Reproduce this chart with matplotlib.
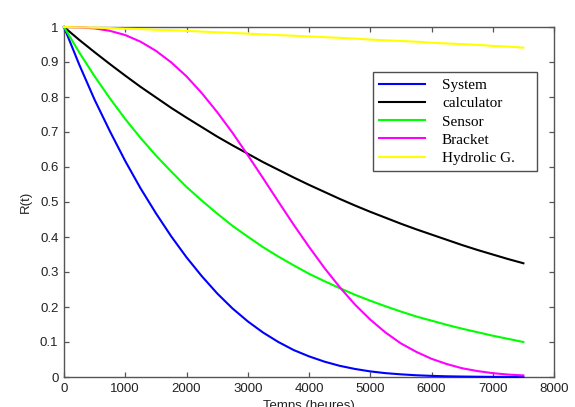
import matplotlib
matplotlib.use("Agg")
import matplotlib.pyplot as plt
import matplotlib.ticker as ticker

# ── Data (every 250 h) ───────────────────────────────────────────────────────
hours = [0, 250, 500, 750, 1000, 1250, 1500, 1750, 2000, 2250, 2500, 2750,
         3000, 3250, 3500, 3750, 4000, 4250, 4500, 4750, 5000, 5250, 5500,
         5750, 6000, 6250, 6500, 6750, 7000, 7250, 7500]

r_system = [1.000, 0.892, 0.792, 0.702, 0.617, 0.539, 0.468, 0.402, 0.342,
            0.288, 0.239, 0.196, 0.159, 0.127, 0.100, 0.077, 0.059, 0.044,
            0.032, 0.023, 0.016, 0.011, 0.0076, 0.0050, 0.0032, 0.0020,
            0.0013, 0.0008, 0.0004, 0.0002, 0.0001]
r_calculator = [1.000, 0.963, 0.928, 0.894, 0.861, 0.829, 0.799, 0.769, 0.741,
                0.714, 0.687, 0.662, 0.638, 0.614, 0.592, 0.570, 0.549, 0.529,
                0.509, 0.490, 0.472, 0.455, 0.438, 0.422, 0.407, 0.392, 0.377,
                0.363, 0.350, 0.337, 0.325]
r_sensor = [1.000, 0.927, 0.859, 0.796, 0.737, 0.683, 0.633, 0.587, 0.543,
            0.504, 0.467, 0.432, 0.401, 0.371, 0.344, 0.319, 0.295, 0.274,
            0.254, 0.235, 0.218, 0.202, 0.187, 0.173, 0.161, 0.149, 0.138,
            0.128, 0.118, 0.109, 0.100]
r_bracket = [1.000, 0.999, 0.996, 0.989, 0.977, 0.958, 0.932, 0.899, 0.859,
             0.811, 0.757, 0.698, 0.634, 0.568, 0.501, 0.435, 0.372, 0.312,
             0.257, 0.207, 0.164, 0.127, 0.096, 0.072, 0.052, 0.037, 0.025,
             0.017, 0.011, 0.007, 0.0045]
r_hydrolic = [1.000, 0.999, 0.998, 0.997, 0.995, 0.994, 0.992, 0.991, 0.989,
              0.987, 0.985, 0.983, 0.981, 0.979, 0.977, 0.975, 0.973, 0.971,
              0.969, 0.967, 0.964, 0.962, 0.960, 0.958, 0.955, 0.953, 0.951,
              0.949, 0.946, 0.944, 0.941]

series = [
    ("System", r_system, "#0000FF"),
    ("calculator", r_calculator, "#000000"),
    ("Sensor", r_sensor, "#00FF00"),
    ("Bracket", r_bracket, "#FF00FF"),
    ("Hydrolic G.", r_hydrolic, "#FFFF00"),
]

plt.rcParams.update({
    "font.family": ["Liberation Sans", "DejaVu Sans"],
    "font.size": 9.5,
})

fig = plt.figure(figsize=(5.75, 4.07), dpi=100)
ax = fig.add_axes([64 / 575, 30 / 407, 490 / 575, 350 / 407])

for name, vals, color in series:
    ax.plot(hours, vals, color=color, linewidth=1.5, label=name,
            clip_on=False, zorder=3)

ax.set_xlim(0, 8000)
ax.set_ylim(0, 1)
ax.xaxis.set_major_locator(ticker.MultipleLocator(1000))
ax.yaxis.set_major_locator(ticker.MultipleLocator(0.1))
ax.yaxis.set_major_formatter(ticker.FuncFormatter(lambda v, _: f"{v:g}"))
ax.tick_params(direction="in", length=3.5, width=0.9, top=True, right=True,
               colors="#555555", labelcolor="#222222", labelsize=9.5, pad=4)
for sp in ax.spines.values():
    sp.set_color("#555555")
    sp.set_linewidth(1.0)

ax.set_ylabel("R(t)", fontsize=9.5, color="#222222", labelpad=6)
# cut by the bottom edge, as in the source figure
ax.set_xlabel("Temps (heures)", fontsize=9.5, color="#222222", labelpad=4)

leg = ax.legend(loc="upper left", bbox_to_anchor=(0.631, 0.586, 0.334, 0.285),
                mode="expand",
                prop={"family": "Liberation Serif", "size": 11},
                frameon=True, fancybox=False, edgecolor="#222222",
                handlelength=3.0, handletextpad=1.1, labelspacing=0.3,
                borderpad=0.4, borderaxespad=0)
leg.get_frame().set_linewidth(1.0)

fig.savefig("out.png", dpi=100, facecolor="white")
